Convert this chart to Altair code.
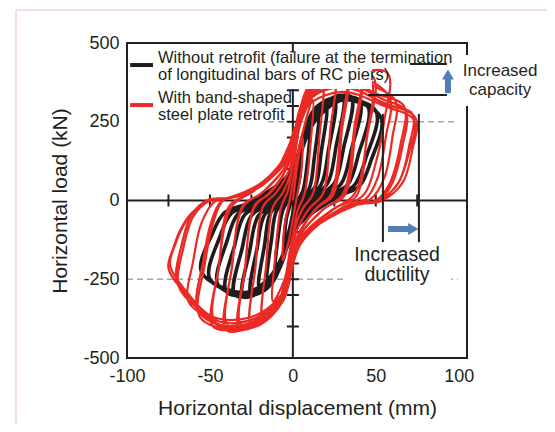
import altair as alt
import pandas as pd

TXT = "#231f20"
RED = "#ec2a25"
BLUE = "#4f7fba"
GRAY = "#a6a6a6"
PINK = "#efd3d7"
FONT = "Liberation Sans"

X_DOMAIN = [-100, 105]
Y_DOMAIN = [-500, 500]
x_label_values = [-100, -50, 0, 50, 100]
y_label_values = [-500, -250, 0, 250, 500]
x_minor_ticks = [-75, -50, -25, 25, 50, 75]
y_minor_ticks = [-400, -300, -250, -200, -100, 100, 200, 250, 300, 350, 400]

x_title = "Horizontal displacement (mm)"
y_title = "Horizontal load (kN)"
legend_lines = ["Without retrofit (failure at the termination",
                "of longitudinal bars of RC piers)",
                "With band-shaped",
                "steel plate retrofit"]
capacity_lines = ["Increased", "capacity"]
ductility_lines = ["Increased", "ductility"]

# ---- red: with band-shaped steel plate retrofit, (displacement mm, load kN) in loading order
red_c01 = [(0, 0), (3, 120), (6, 200), (5, 90), (2, 0), (0, -60), (-3, -140), (-6, -190), (-5, -80), (-2, 0), (0, 60), (3, 150)]
red_c02 = [(12, 320), (10.5, 170), (7, 20), (3, -30), (0, -110), (-5, -250), (-12, -320), (-10.5, -170), (-7, -20), (-3, 30), (0, 110), (5, 250)]
red_c03 = [(18, 380), (16, 200), (12, 20), (6, -25), (0, -110), (-5, -260), (-10, -340), (-18, -375), (-16, -200), (-12, -20), (-6, 25), (0, 110), (5, 270), (10, 350)]
red_c04 = [(25, 410), (22.5, 220), (18, 20), (10, -25), (2, -100), (-4, -250), (-10, -345), (-25, -395), (-22.5, -210), (-18, -20), (-10, 25), (-2, 100), (4, 270), (10, 360)]
red_c05 = [(32, 425), (29, 230), (23, 20), (14, -25), (3, -110), (-4, -260), (-12, -360), (-32, -408), (-29, -220), (-23, -20), (-14, 25), (-3, 110), (4, 280), (12, 380)]
red_c06 = [(32, 405), (29.5, 220), (24, 15), (15, -22), (4, -105), (-3, -240), (-11, -345), (-31, -395), (-28.5, -205), (-23, -15), (-14, 22), (-4, 100), (3, 260), (11, 370)]
red_c07 = [(40, 420), (37, 230), (30, 20), (18, -30), (3, -120), (-5, -280), (-14, -370), (-40, -412), (-37, -220), (-30, -20), (-18, 28), (-3, 120), (5, 290), (15, 390)]
red_c08 = [(40, 400), (37.5, 215), (31, 15), (19, -25), (4, -115), (-4, -265), (-13, -355), (-39, -398), (-36.5, -205), (-30, -15), (-19, 22), (-4, 112), (4, 275), (14, 375)]
red_c09 = [(48, 395), (45, 210), (37, 20), (24, -30), (3, -130), (-6, -300), (-16, -380), (-30, -405), (-48, -400), (-45, -220), (-37, -20), (-24, 30), (-3, 130), (6, 310), (18, 395), (32, 415)]
red_c10 = [(47, 380), (44.5, 200), (38, 12), (25, -25), (4, -125), (-5, -290), (-15, -370), (-30, -395), (-47, -385), (-44.5, -205), (-38, -15), (-25, 25), (-4, 125), (5, 300), (17, 385), (32, 400)]
red_c11 = [(57, 405), (55, 250), (50, 120), (43, 20), (28, -30), (4, -135), (-6, -310), (-18, -385), (-35, -410), (-56, -370), (-53, -200), (-48, -70), (-42, 0), (-28, 25), (-8, 100), (3, 250), (14, 370), (32, 405)]
red_c12 = [(58, 330), (56, 200), (51, 70), (44, 5), (30, -22), (5, -130), (-6, -315), (-19, -390), (-38, -405), (-57, -350), (-54, -190), (-49, -65), (-43, -2), (-30, 18), (-9, 95), (2, 240), (13, 360), (32, 395), (50, 360)]
red_c13 = [(62, 315), (60, 200), (55, 70), (47, 5), (32, -20), (5, -135), (-6, -320), (-20, -395), (-40, -408), (-52, -370), (-63, -320), (-60, -190), (-55, -70), (-47, -3), (-33, 15), (-10, 90), (2, 220), (12, 350), (30, 390), (50, 340)]
red_c14 = [(67, 300), (65, 180), (58, 50), (50, 0), (34, -18), (5, -130), (-7, -320), (-22, -390), (-42, -400), (-58, -340), (-69, -270), (-66, -150), (-60, -50), (-50, 0), (-36, 12), (-12, 80), (0, 200), (12, 340), (32, 370), (55, 320)]
red_c15 = [(68, 285), (66, 170), (59, 45), (51, -2), (35, -15), (6, -125), (-7, -305), (-23, -375), (-44, -385), (-60, -320), (-70, -255), (-67, -140), (-61, -45), (-51, 2), (-37, 10), (-13, 75), (-1, 190), (11, 330), (33, 360), (56, 305)]
red_c16 = [(72, 275), (70, 170), (64, 60), (52, 0), (36, -15), (4, -125), (-7, -315), (-24, -385), (-45, -395), (-62, -310), (-75, -215), (-72, -150), (-68, -95), (-61, -40), (-50, 0), (-38, 10), (-18, 60), (-2, 160), (10, 320), (30, 360), (55, 310)]
red_c17 = [(74, 262), (72, 160), (66, 55), (53, -2), (38, -15), (6, -120), (-7, -300), (-25, -370), (-48, -370), (-64, -290), (-74, -205), (-71, -140), (-66, -80), (-59, -30), (-49, 3), (-37, 8), (-18, 50), (-3, 140), (9, 300), (30, 345), (55, 300), (73, 255), (70, 150), (63, 50), (52, -3)]

# ---- black: without retrofit (pinched near the origin)
blk_c01 = [(0, 0), (2, 60), (5, 150), (4, 70), (1, 0), (0, -40), (-2, -90), (-5, -140), (-4, -60), (-1, 0), (0, 40), (2, 100)]
blk_c02 = [(10, 220), (8.5, 110), (6, 30), (2, -10), (0, -50), (-4, -150), (-10, -210), (-8.5, -100), (-6, -30), (-2, 10), (0, 50), (4, 160)]
blk_c03 = [(15, 270), (12.8, 130), (10, 40), (4, -5), (0, -55), (-5, -160), (-15, -250), (-12.8, -120), (-10, -35), (-4, 5), (0, 55), (5, 170)]
blk_c04 = [(20, 300), (17, 150), (13.5, 45), (6, 0), (0, -60), (-6, -180), (-12, -250), (-20, -280), (-17, -140), (-13.5, -40), (-6, 0), (0, 60), (6, 190), (12, 270)]
blk_c05 = [(25, 320), (21.5, 160), (17, 50), (8, 5), (0, -60), (-6, -185), (-13, -265), (-25, -298), (-21.5, -150), (-17, -45), (-8, -5), (0, 60), (6, 200), (13, 285)]
blk_c06 = [(30, 332), (26, 170), (21, 55), (12, 10), (1, -55), (-6, -190), (-15, -275), (-30, -305), (-26, -160), (-21, -50), (-12, -10), (-1, 55), (6, 205), (15, 300)]
blk_c07 = [(35, 330), (30.5, 165), (25, 55), (15, 12), (1, -60), (-7, -200), (-17, -285), (-35, -300), (-30.5, -150), (-25, -48), (-15, -12), (-1, 60), (7, 210), (18, 310)]
blk_c08 = [(40, 318), (35, 155), (29, 52), (18, 12), (1, -65), (-8, -205), (-20, -290), (-40, -290), (-35, -140), (-29, -45), (-18, -12), (-1, 65), (8, 215), (20, 318)]
blk_c09 = [(45, 300), (39.5, 145), (33, 50), (21, 12), (2, -70), (-9, -210), (-22, -292), (-45, -270), (-39.5, -125), (-33, -42), (-21, -12), (-2, 70), (9, 220), (23, 322)]
blk_c10 = [(50, 285), (44, 135), (37, 48), (24, 12), (2, -75), (-10, -215), (-25, -292), (-50, -250), (-44, -115), (-37, -40), (-24, -10), (-2, 75), (10, 225), (27, 322)]
blk_c11 = [(53, 265), (47, 125), (40, 45), (27, 12), (3, -80), (-10, -220), (-28, -292), (-55, -228), (-48.5, -105), (-41, -38), (-27, -8), (-3, 80), (10, 230), (30, 320), (45, 300)]

red_cycles = [red_c01, red_c02, red_c03, red_c04, red_c05, red_c06, red_c07, red_c08, red_c09,
              red_c10, red_c11, red_c12, red_c13, red_c14, red_c15, red_c16, red_c17]
blk_cycles = [blk_c01, blk_c02, blk_c03, blk_c04, blk_c05, blk_c06, blk_c07, blk_c08, blk_c09,
              blk_c10, blk_c11]

# annotation positions (data units)
ductility_marks_d = [54.3, 76.0]
ductility_marks_P = [275, -132]
capacity_low = (45.3, 92.9, 335)
capacity_high = (70.6, 92.9, 433)


def path_frame(cycles):
    rows = []
    for c in cycles:
        for d, p in c:
            rows.append({"d": d, "P": p, "i": len(rows)})
    return pd.DataFrame(rows)


xs = alt.Scale(domain=X_DOMAIN, nice=False, zero=False)
ys = alt.Scale(domain=Y_DOMAIN, nice=False, zero=False)
xax = alt.Axis(values=x_label_values, labelExpr="'' + datum.value", ticks=False, tickSize=0,
               domain=False, grid=False, labelFontSize=18, labelFont=FONT, labelColor=TXT,
               labelPadding=9, labelFlush=False, labelOverlap=False,
               title=x_title, titleFontSize=21, titleFontWeight="normal", titleFont=FONT,
               titleColor=TXT, titlePadding=12)
yax = alt.Axis(values=y_label_values, labelExpr="'' + datum.value", ticks=False, tickSize=0,
               domain=False, grid=False, labelFontSize=18, labelFont=FONT, labelColor=TXT,
               labelPadding=8, labelFlush=False, labelOverlap=False,
               title=y_title, titleFontSize=21, titleFontWeight="normal", titleFont=FONT,
               titleColor=TXT, titlePadding=12)


def X(f="d"):
    return alt.X(f, type="quantitative", scale=xs, axis=xax)


def Y(f="P"):
    return alt.Y(f, type="quantitative", scale=ys, axis=yax)


def seg_df(rows):
    return pd.DataFrame(rows, columns=["d", "d2", "P", "P2"])


# dashed reference lines
dashed = alt.Chart(pd.DataFrame({"d": [-15, -100], "d2": [99, 99.5], "P": [250, -250]})).mark_rule(
    color=GRAY, strokeWidth=1.6, strokeDash=[6, 4]).encode(x=X(), x2="d2", y=Y())

# zero axes
zero_h = alt.Chart(pd.DataFrame({"d": [X_DOMAIN[0]], "d2": [X_DOMAIN[1]], "P": [0]})).mark_rule(
    color=TXT, strokeWidth=2).encode(x=X(), x2="d2", y=Y())
zero_v = alt.Chart(pd.DataFrame({"d": [0], "P": [Y_DOMAIN[0]], "P2": [Y_DOMAIN[1]]})).mark_rule(
    color=TXT, strokeWidth=2).encode(x=X(), y=Y(), y2="P2")
ticks_h = alt.Chart(pd.DataFrame({"d": x_minor_ticks, "P": [0] * len(x_minor_ticks)})).mark_tick(
    orient="vertical", size=12, thickness=2, color=TXT, opacity=1).encode(x=X(), y=Y())
ticks_v = alt.Chart(pd.DataFrame({"d": [0] * len(y_minor_ticks), "P": y_minor_ticks})).mark_tick(
    orient="horizontal", size=12, thickness=2, color=TXT, opacity=1).encode(x=X(), y=Y())

black_line = alt.Chart(path_frame(blk_cycles)).mark_line(
    color="#1e1c1d", strokeWidth=3.6, interpolate="catmull-rom").encode(x=X(), y=Y(), order="i:Q")
red_line = alt.Chart(path_frame(red_cycles)).mark_line(
    color=RED, strokeWidth=2.2, interpolate="catmull-rom").encode(x=X(), y=Y(), order="i:Q")

frame = alt.Chart(pd.DataFrame({"d": [X_DOMAIN[0]], "d2": [X_DOMAIN[1]], "P": [Y_DOMAIN[0]],
                                "P2": [Y_DOMAIN[1]]})).mark_rect(
    fillOpacity=0, stroke=TXT, strokeWidth=2).encode(x=X(), x2="d2", y=Y(), y2="P2")

white = alt.Chart(seg_df([
    (-99.3, 47.7, 354, 470),     # legend box
    (96, 152, 300, 462),         # capacity label box
    (32, 95.4, -284, -141),      # ductility label box
])).mark_rect(color="white", opacity=1).encode(x=X(), x2="d2", y=Y(), y2="P2")

annot_rules = alt.Chart(pd.DataFrame({
    "d": [ductility_marks_d[0], ductility_marks_d[1], capacity_low[0], capacity_high[0]],
    "d2": [ductility_marks_d[0], ductility_marks_d[1], capacity_low[1], capacity_high[1]],
    "P": [ductility_marks_P[0], ductility_marks_P[0], capacity_low[2], capacity_high[2]],
    "P2": [ductility_marks_P[1], ductility_marks_P[1], capacity_low[2], capacity_high[2]],
})).mark_rule(color=TXT, strokeWidth=2).encode(x=X(), x2="d2", y=Y(), y2="P2")

arrow_shafts = alt.Chart(pd.DataFrame({
    "d": [57.4, 93.5], "d2": [70.8, 93.5], "P": [-90.5, 341], "P2": [-90.5, 392]})).mark_rule(
    color=BLUE, strokeWidth=6).encode(x=X(), x2="d2", y=Y(), y2="P2")
head_right = alt.Chart(pd.DataFrame({"d": [72.6], "P": [-90.5]})).mark_point(
    shape="triangle-right", size=140, filled=True, color=BLUE, opacity=1).encode(x=X(), y=Y())
head_up = alt.Chart(pd.DataFrame({"d": [93.5], "P": [400]})).mark_point(
    shape="triangle-up", size=140, filled=True, color=BLUE, opacity=1).encode(x=X(), y=Y())

legend_samples = alt.Chart(pd.DataFrame({
    "d": [-98.1, -98.1], "d2": [-84.3, -84.3], "P": [430, 303], "c": ["k", "r"]})).mark_rule(
    strokeWidth=4).encode(x=X(), x2="d2", y=Y(),
                          color=alt.Color("c:N", scale=alt.Scale(domain=["k", "r"], range=["#1e1c1d", RED]),
                                          legend=None))

legend_text = alt.Chart(pd.DataFrame({"d": [-81.3] * 4, "P": [438, 384, 308, 254],
                                      "t": legend_lines})).mark_text(
    align="left", baseline="alphabetic", font=FONT, fontSize=16.5, color=TXT).encode(
    x=X(), y=Y(), text="t:N")

cap_text = alt.Chart(pd.DataFrame({"d": [125, 125], "P": [396, 336], "t": capacity_lines})).mark_text(
    align="center", baseline="alphabetic", font=FONT, fontSize=17, color=TXT).encode(
    x=X(), y=Y(), text="t:N")
duc_text = alt.Chart(pd.DataFrame({"d": [62.8, 62.8], "P": [-192, -257], "t": ductility_lines})).mark_text(
    align="center", baseline="alphabetic", font=FONT, fontSize=19.5, color=TXT).encode(
    x=X(), y=Y(), text="t:N")

one = pd.DataFrame({"k": [0]})
pink_top = alt.Chart(one).mark_rule(color=PINK, strokeWidth=1.5).encode(
    x=alt.value(-111), x2=alt.value(420), y=alt.value(-33))
pink_left = alt.Chart(one).mark_rule(color=PINK, strokeWidth=1.5).encode(
    x=alt.value(-111), y=alt.value(-33), y2=alt.value(381))

chart = alt.layer(
    dashed, zero_h, zero_v, ticks_h, ticks_v, black_line, red_line, frame, white,
    annot_rules, arrow_shafts, head_right, head_up, legend_samples, legend_text,
    cap_text, duc_text, pink_top, pink_left
).properties(
    width=340, height=315,
    autosize=alt.AutoSizeParams(type="none"),
    padding={"left": 119, "top": 35, "right": 80, "bottom": 66},
    background="white",
).configure_view(stroke=None)

chart.save("out.html", embed_options={"renderer": "svg", "actions": False})
